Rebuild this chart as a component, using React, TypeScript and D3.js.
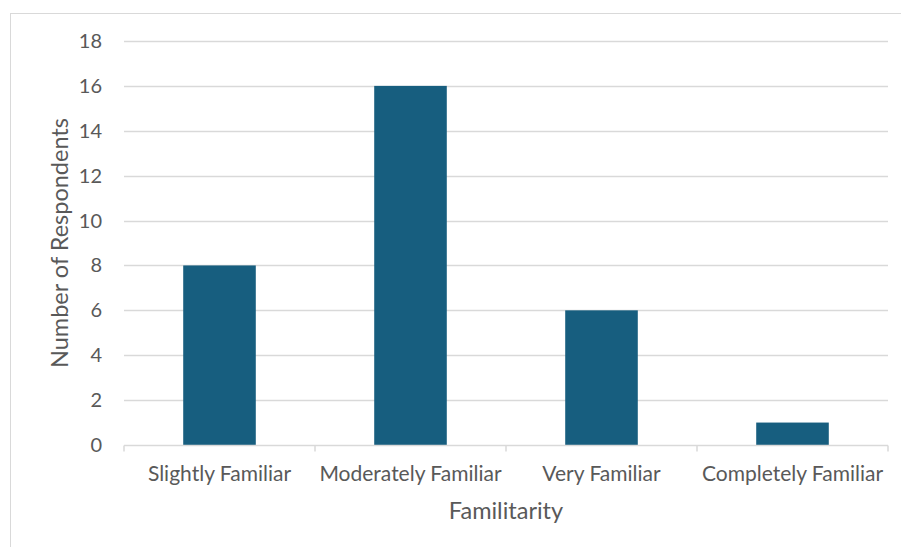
import { useEffect, useRef } from 'react'
import * as d3 from 'd3'

const categories = ['Slightly Familiar', 'Moderately Familiar', 'Very Familiar', 'Completely Familiar']
const respondents = [8, 16, 6, 1]
const yTicks = [0, 2, 4, 6, 8, 10, 12, 14, 16, 18]

const FONT = 'Lato, "Open Sans", sans-serif'
const TEXT = '#595959'
const GRID = '#d9d9d9'
const BAR = '#175e7f'

export default function App() {
  const ref = useRef<SVGSVGElement | null>(null)

  useEffect(() => {
    const el = ref.current
    if (!el) return
    const svg = d3.select(el)
    svg.selectAll('*').remove()

    const width = 901
    const height = 547
    const m = { top: 41, right: 13, bottom: 102, left: 124 }
    const iw = width - m.left - m.right
    const ih = height - m.top - m.bottom

    // chart area border (only top/left visible in frame)
    svg.append('rect')
      .attr('x', 10.5).attr('y', 13.5)
      .attr('width', 1000).attr('height', 1000)
      .attr('fill', 'none').attr('stroke', GRID).attr('stroke-width', 1)

    const g = svg.append('g').attr('transform', `translate(${m.left},${m.top})`)
    const x = d3.scaleBand<string>().domain(categories).range([0, iw]).paddingInner(0).paddingOuter(0)
    const y = d3.scaleLinear().domain([0, 18]).range([ih, 0])

    // gridlines
    g.selectAll('line.grid').data(yTicks.filter(t => t > 0)).join('line')
      .attr('class', 'grid')
      .attr('x1', 0).attr('x2', iw)
      .attr('y1', d => Math.round(y(d)) + 0.5).attr('y2', d => Math.round(y(d)) + 0.5)
      .attr('stroke', GRID).attr('stroke-width', 1.5)

    // y tick labels
    g.selectAll('text.ytick').data(yTicks).join('text')
      .attr('class', 'ytick')
      .attr('x', -22).attr('y', d => y(d))
      .attr('dy', '0.35em')
      .attr('text-anchor', 'end')
      .attr('fill', TEXT).attr('font-family', FONT).attr('font-size', 20)
      .text(d => d)

    // bars
    const bw = x.bandwidth() * 0.38
    g.selectAll('rect.bar').data(respondents).join('rect')
      .attr('class', 'bar')
      .attr('x', (_, i) => (x(categories[i]) ?? 0) + (x.bandwidth() - bw) / 2)
      .attr('y', d => y(d))
      .attr('width', bw)
      .attr('height', d => ih - y(d))
      .attr('fill', BAR)

    // x axis line + ticks
    const base = Math.round(ih) + 0.5
    g.append('line')
      .attr('x1', 0).attr('x2', iw).attr('y1', base).attr('y2', base)
      .attr('stroke', GRID).attr('stroke-width', 1.5)
    const edges = categories.map(c => x(c) ?? 0).concat([iw])
    g.selectAll('line.xtick').data(edges).join('line')
      .attr('class', 'xtick')
      .attr('x1', d => d).attr('x2', d => d)
      .attr('y1', base).attr('y2', base + 6)
      .attr('stroke', GRID).attr('stroke-width', 1.5)

    // x labels
    g.selectAll('text.xtick').data(categories).join('text')
      .attr('class', 'xtick')
      .attr('x', d => (x(d) ?? 0) + x.bandwidth() / 2)
      .attr('y', ih + 36)
      .attr('text-anchor', 'middle')
      .attr('fill', TEXT).attr('font-family', FONT).attr('font-size', 21)
      .text(d => d)

    // axis titles
    svg.append('text')
      .attr('x', m.left + iw / 2).attr('y', 519)
      .attr('text-anchor', 'middle')
      .attr('fill', TEXT).attr('font-family', FONT).attr('font-size', 23.5)
      .text('Familitarity')

    svg.append('text')
      .attr('transform', `translate(68,${m.top + ih / 2}) rotate(-90)`)
      .attr('text-anchor', 'middle')
      .attr('fill', TEXT).attr('font-family', FONT).attr('font-size', 23.5)
      .text('Number of Respondents')
  }, [])

  return (
    <svg
      ref={ref}
      width={901}
      height={547}
      style={{ position: 'absolute', left: 0, top: 0, background: '#fff' }}
    />
  )
}
